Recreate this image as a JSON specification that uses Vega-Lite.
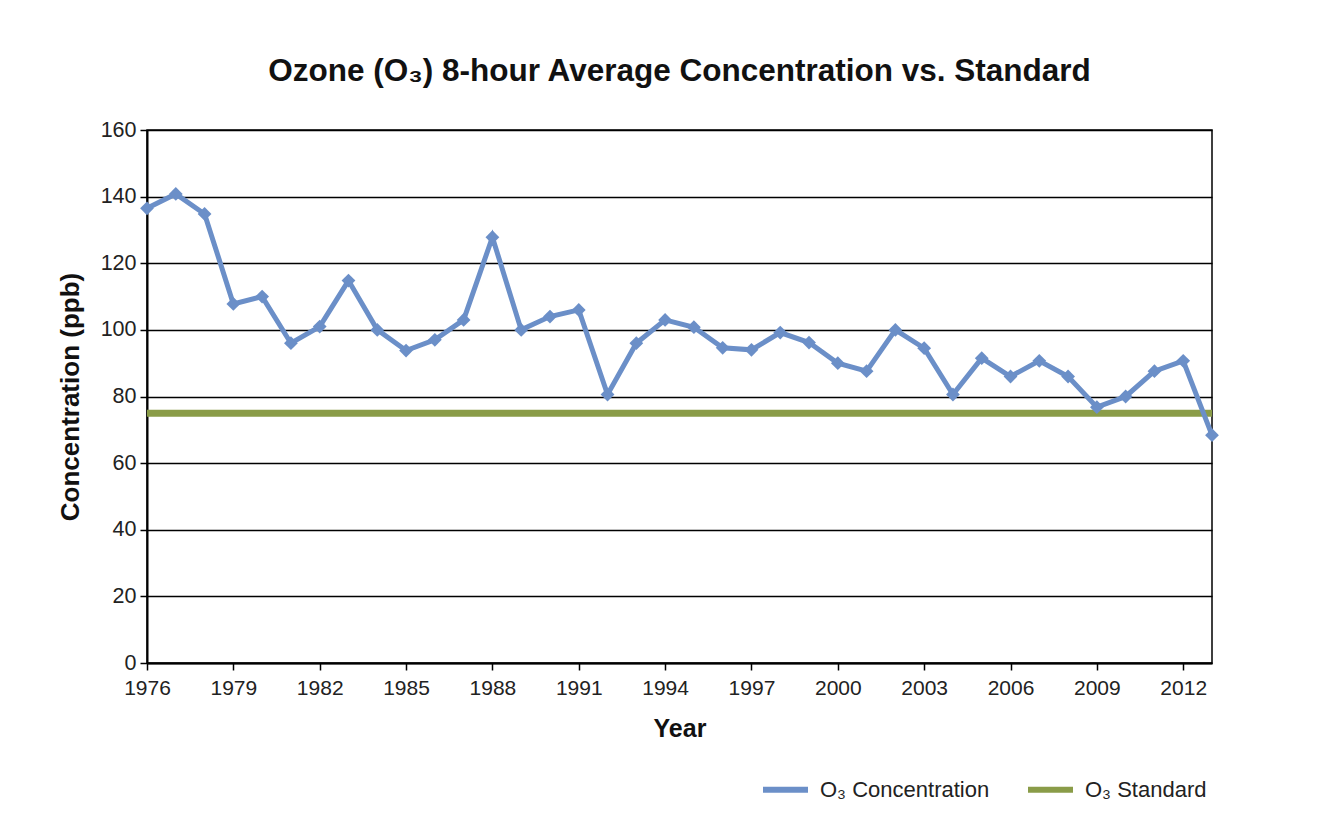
{
  "$schema": "https://vega.github.io/schema/vega-lite/v6.json",
  "width": 1065,
  "height": 533,
  "autosize": "none",
  "padding": {"left": 147, "top": 130, "right": 113, "bottom": 168},
  "background": "white",
  "title": {"text": "Ozone (O₃) 8-hour Average Concentration vs. Standard", "fontSize": 31.5, "font": "Liberation Sans", "fontWeight": "bold", "color": "#111111", "offset": 32, "anchor": "middle"},
  "config": {
    "font": "Liberation Sans",
    "view": {"stroke": "black", "strokeWidth": 1.5}
  },
  "data": {"values": [
    {"year": 1976, "value": 136.5, "series": "O₃ Concentration"},
    {"year": 1977, "value": 140.8, "series": "O₃ Concentration"},
    {"year": 1978, "value": 134.8, "series": "O₃ Concentration"},
    {"year": 1979, "value": 107.8, "series": "O₃ Concentration"},
    {"year": 1980, "value": 110, "series": "O₃ Concentration"},
    {"year": 1981, "value": 96, "series": "O₃ Concentration"},
    {"year": 1982, "value": 101, "series": "O₃ Concentration"},
    {"year": 1983, "value": 114.8, "series": "O₃ Concentration"},
    {"year": 1984, "value": 100, "series": "O₃ Concentration"},
    {"year": 1985, "value": 93.8, "series": "O₃ Concentration"},
    {"year": 1986, "value": 97, "series": "O₃ Concentration"},
    {"year": 1987, "value": 103, "series": "O₃ Concentration"},
    {"year": 1988, "value": 127.8, "series": "O₃ Concentration"},
    {"year": 1989, "value": 100, "series": "O₃ Concentration"},
    {"year": 1990, "value": 104, "series": "O₃ Concentration"},
    {"year": 1991, "value": 106, "series": "O₃ Concentration"},
    {"year": 1992, "value": 80.6, "series": "O₃ Concentration"},
    {"year": 1993, "value": 96, "series": "O₃ Concentration"},
    {"year": 1994, "value": 103, "series": "O₃ Concentration"},
    {"year": 1995, "value": 100.8, "series": "O₃ Concentration"},
    {"year": 1996, "value": 94.6, "series": "O₃ Concentration"},
    {"year": 1997, "value": 94, "series": "O₃ Concentration"},
    {"year": 1998, "value": 99.2, "series": "O₃ Concentration"},
    {"year": 1999, "value": 96.2, "series": "O₃ Concentration"},
    {"year": 2000, "value": 90, "series": "O₃ Concentration"},
    {"year": 2001, "value": 87.6, "series": "O₃ Concentration"},
    {"year": 2002, "value": 100, "series": "O₃ Concentration"},
    {"year": 2003, "value": 94.5, "series": "O₃ Concentration"},
    {"year": 2004, "value": 80.6, "series": "O₃ Concentration"},
    {"year": 2005, "value": 91.5, "series": "O₃ Concentration"},
    {"year": 2006, "value": 86, "series": "O₃ Concentration"},
    {"year": 2007, "value": 90.7, "series": "O₃ Concentration"},
    {"year": 2008, "value": 86, "series": "O₃ Concentration"},
    {"year": 2009, "value": 76.8, "series": "O₃ Concentration"},
    {"year": 2010, "value": 80, "series": "O₃ Concentration"},
    {"year": 2011, "value": 87.6, "series": "O₃ Concentration"},
    {"year": 2012, "value": 90.7, "series": "O₃ Concentration"},
    {"year": 2013, "value": 68.4, "series": "O₃ Concentration"},
    {"year": 1976, "value": 75, "series": "O₃ Standard"},
    {"year": 2013, "value": 75, "series": "O₃ Standard"}
  ]},
  "encoding": {
    "x": {
      "field": "year", "type": "quantitative",
      "scale": {"domain": [1976, 2013], "nice": false, "zero": false},
      "axis": {
        "values": [1976, 1979, 1982, 1985, 1988, 1991, 1994, 1997, 2000, 2003, 2006, 2009, 2012],
        "format": "d", "grid": false, "labelFlush": false,
        "domainColor": "black", "domainWidth": 2,
        "tickColor": "black", "tickSize": 7, "tickWidth": 1.5,
        "labelFontSize": 21, "labelColor": "#222222", "labelPadding": 7,
        "title": "Year", "titleFontSize": 25, "titleFontWeight": "bold", "titleColor": "#111111", "titlePadding": 18
      }
    },
    "y": {
      "field": "value", "type": "quantitative",
      "scale": {"domain": [0, 160], "nice": false},
      "axis": {
        "values": [0, 20, 40, 60, 80, 100, 120, 140, 160],
        "grid": true, "gridColor": "black", "gridWidth": 1.5, "gridOpacity": 1,
        "domainColor": "black", "domainWidth": 2,
        "tickColor": "black", "tickSize": 7, "tickWidth": 1.5,
        "labelFontSize": 21.5, "labelColor": "#222222", "labelPadding": 4,
        "title": "Concentration (ppb)", "titleFontSize": 26, "titleFontWeight": "bold", "titleColor": "#111111", "titlePadding": 17
      }
    },
    "color": {
      "field": "series", "type": "nominal",
      "scale": {"domain": ["O₃ Concentration", "O₃ Standard"], "range": ["#6b8fc8", "#8a9c48"]},
      "legend": {
        "title": null, "orient": "none", "legendX": 613, "legendY": 634,
        "direction": "horizontal", "symbolType": "stroke", "symbolSize": 2025, "symbolStrokeWidth": 6,
        "labelFontSize": 22, "labelColor": "#222222", "labelOffset": 9, "labelLimit": 400, "columnPadding": 26
      }
    }
  },
  "layer": [
    {
      "transform": [{"filter": "datum.series === 'O₃ Standard'"}],
      "mark": {"type": "line", "strokeWidth": 7}
    },
    {
      "transform": [{"filter": "datum.series === 'O₃ Concentration'"}],
      "mark": {"type": "line", "strokeWidth": 5, "clip": false, "point": {"shape": "diamond", "size": 190, "filled": true, "opacity": 1}}
    }
  ]
}
